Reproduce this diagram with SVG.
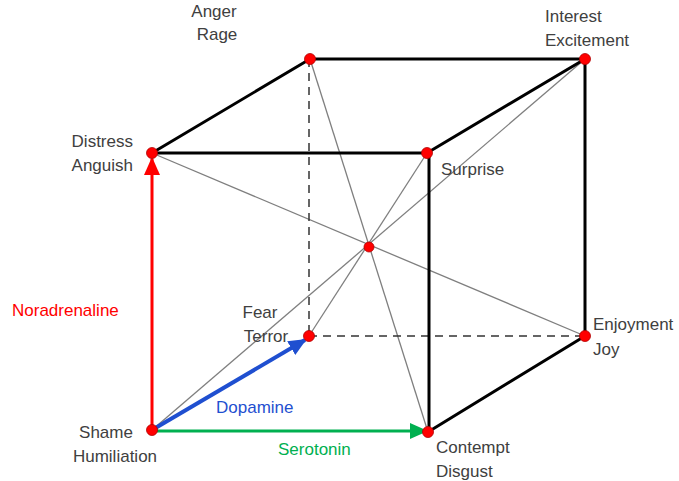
<svg xmlns="http://www.w3.org/2000/svg" width="679" height="481" viewBox="0 0 679 481">
<style>
text{font-family:"Liberation Sans",Arial,sans-serif;font-size:17px;fill:#404040}
.edge{stroke:#000;stroke-width:3;fill:none;stroke-linecap:round}
.dash{stroke:#333;stroke-width:1.5;stroke-dasharray:8 6;fill:none}
.diag{stroke:#7f7f7f;stroke-width:1.3;fill:none}
.dot{fill:#f00;stroke:#b00000;stroke-width:0.8}
</style>
<defs>
<marker id="ar" markerUnits="userSpaceOnUse" markerWidth="18" markerHeight="16" refX="16" refY="8" orient="auto"><path d="M0,0 L18,8 L0,16 Z" fill="#ff0000"/></marker>
<marker id="ag" markerUnits="userSpaceOnUse" markerWidth="18" markerHeight="16" refX="16" refY="8" orient="auto"><path d="M0,0 L18,8 L0,16 Z" fill="#00b050"/></marker>
<marker id="ab" markerUnits="userSpaceOnUse" markerWidth="18" markerHeight="16" refX="16" refY="8" orient="auto"><path d="M0,0 L18,8 L0,16 Z" fill="#1f4fd0"/></marker>
</defs>
<rect width="679" height="481" fill="#fff"/>
<g id="connectors">
<line class="diag" x1="152" y1="430" x2="585" y2="59"/>
<line class="diag" x1="152" y1="153" x2="585" y2="336"/>
<line class="diag" x1="310" y1="59" x2="428" y2="432"/>
<line class="diag" x1="309" y1="336" x2="427" y2="153"/>
<line class="dash" x1="309" y1="59" x2="309" y2="336"/>
<line class="dash" x1="309" y1="336" x2="585" y2="336"/>
<line class="edge" x1="152" y1="153" x2="310" y2="59"/>
<line class="edge" x1="310" y1="59" x2="585" y2="59"/>
<line class="edge" x1="152" y1="153" x2="427" y2="153"/>
<line class="edge" x1="427" y1="153" x2="585" y2="59"/>
<line class="edge" x1="585" y1="59" x2="585" y2="336"/>
<line class="edge" x1="429" y1="153" x2="429" y2="432"/>
<line class="edge" x1="428" y1="432" x2="585" y2="336"/>
<line x1="152" y1="430" x2="152" y2="159" stroke="#ff0000" stroke-width="3" marker-end="url(#ar)"/>
<line x1="152" y1="431" x2="426" y2="431" stroke="#00b050" stroke-width="3" marker-end="url(#ag)"/>
<line x1="152" y1="430" x2="305" y2="340" stroke="#1f4fd0" stroke-width="4" marker-end="url(#ab)"/>
<text x="12" y="316" style="fill:#ff0000">Noradrenaline</text>
<text x="216" y="413" style="fill:#1f4fd0">Dopamine</text>
<text x="278" y="455" style="fill:#00b050">Serotonin</text>
</g>
<g id="center"><circle class="dot" cx="369" cy="247" r="5"/></g>
<g id="anger"><circle class="dot" cx="310" cy="59" r="5.5"/><text x="214" y="17" text-anchor="middle">Anger</text><text x="217" y="40" text-anchor="middle">Rage</text></g>
<g id="interest"><circle class="dot" cx="585" cy="59" r="5.5"/><text x="545" y="22">Interest</text><text x="545" y="46">Excitement</text></g>
<g id="distress"><circle class="dot" cx="152" cy="153" r="5.5"/><text x="133" y="147" text-anchor="end">Distress</text><text x="133" y="171" text-anchor="end">Anguish</text></g>
<g id="surprise"><circle class="dot" cx="427" cy="153" r="5.5"/><text x="441" y="175">Surprise</text></g>
<g id="fear"><circle class="dot" cx="309" cy="336" r="5.5"/><text x="260" y="318" text-anchor="middle">Fear</text><text x="266" y="342" text-anchor="middle">Terror</text></g>
<g id="enjoyment"><circle class="dot" cx="585" cy="336" r="5.5"/><text x="593" y="330">Enjoyment</text><text x="593" y="355">Joy</text></g>
<g id="shame"><circle class="dot" cx="152" cy="430" r="5.5"/><text x="106" y="438" text-anchor="middle">Shame</text><text x="115" y="462" text-anchor="middle">Humiliation</text></g>
<g id="contempt"><circle class="dot" cx="428" cy="432" r="5.5"/><text x="436" y="453">Contempt</text><text x="436" y="477">Disgust</text></g>
</svg>
